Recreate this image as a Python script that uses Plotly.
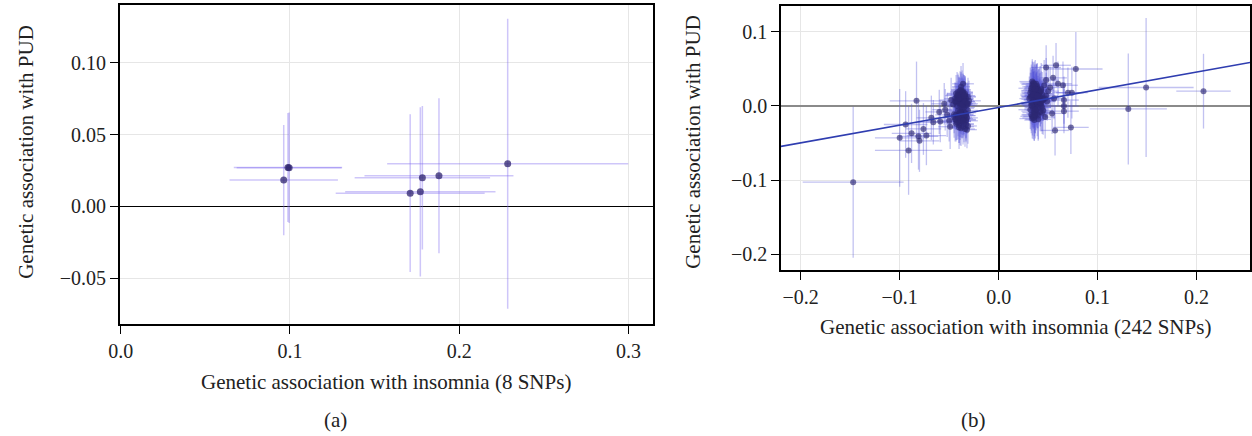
import plotly.graph_objects as go

# ---- panel (a): 8 SNPs ----
a_x = [0.0988, 0.0995, 0.0963, 0.171, 0.177, 0.1782, 0.188, 0.2286]
a_y = [0.0272, 0.0270, 0.0184, 0.0093, 0.0102, 0.0200, 0.0214, 0.0298]
a_xerr = [0.032, 0.031, 0.032, 0.044, 0.0444, 0.040, 0.044, 0.0712]
a_yerr = [0.038, 0.0385, 0.0384, 0.055, 0.059, 0.050, 0.054, 0.101]

# ---- panel (b): 242 SNPs (negative side) ----
neg_x = [-0.147, -0.100, -0.094, -0.088, -0.091, -0.083, -0.081, -0.080, -0.076, -0.073,
         -0.068, -0.066, -0.060, -0.059, -0.055, -0.054, -0.052, -0.050, -0.049, -0.048,
         -0.046, -0.045, -0.044, -0.044, -0.043, -0.043, -0.042, -0.042, -0.042, -0.041,
         -0.041, -0.041, -0.040, -0.040, -0.040, -0.040, -0.039, -0.039, -0.039, -0.039,
         -0.038, -0.038, -0.038, -0.038, -0.038, -0.037, -0.037, -0.037, -0.037, -0.037,
         -0.036, -0.036, -0.036, -0.036, -0.036, -0.035, -0.035, -0.035, -0.035, -0.035,
         -0.034, -0.034, -0.034, -0.034, -0.033, -0.033, -0.033, -0.033, -0.032, -0.032,
         -0.032, -0.031, -0.031, -0.031, -0.030, -0.036, -0.040, -0.043, -0.035, -0.038,
         -0.044, -0.043, -0.042, -0.041, -0.040, -0.039, -0.038, -0.037, -0.036, -0.035,
         -0.034, -0.033, -0.032, -0.041, -0.039, -0.037, -0.035, -0.033, -0.038, -0.036,
         -0.045, -0.042, -0.040, -0.038, -0.036, -0.034, -0.039, -0.037, -0.035, -0.040,
         -0.043, -0.041, -0.039, -0.037, -0.036, -0.034, -0.038, -0.035, -0.033, -0.031]
neg_y = [-0.103, -0.043, -0.025, -0.037, -0.060, 0.007, -0.041, -0.047, -0.031, -0.040,
         -0.016, -0.022, -0.008, -0.021, 0.003, -0.005, -0.012, -0.020, -0.028, 0.008,
         0.002, -0.015, 0.010, -0.018, 0.005, -0.012, 0.014, -0.022, 0.000, 0.008,
         -0.016, 0.019, -0.010, 0.004, -0.026, 0.012, -0.014, 0.007, 0.001, -0.019,
         0.016, -0.008, 0.003, -0.013, 0.022, -0.017, 0.009, -0.004, 0.013, -0.021,
         0.006, -0.011, 0.018, -0.015, 0.030, 0.002, -0.024, 0.011, -0.018, 0.005,
         -0.031, 0.008, -0.009, 0.015, -0.013, 0.001, -0.020, 0.010, -0.032, 0.004,
         -0.016, 0.012, -0.006, -0.027, 0.007, 0.020, -0.029, 0.017, -0.002, -0.010,
         0.006, -0.019, 0.011, -0.014, 0.016, -0.023, 0.003, -0.009, 0.009, -0.017,
         0.013, -0.025, 0.001, -0.006, 0.021, -0.012, 0.004, -0.019, 0.026, -0.028,
         -0.011, 0.007, -0.021, 0.012, -0.003, 0.017, -0.016, 0.002, -0.013, 0.010,
         -0.024, 0.015, -0.007, 0.019, -0.020, 0.006, -0.030, 0.014, -0.011, 0.003]
neg_xerr = [0.051, 0.025, 0.022, 0.020, 0.034, 0.027, 0.020, 0.020, 0.018, 0.020,
            0.015, 0.016, 0.014, 0.014, 0.013, 0.013, 0.012, 0.012, 0.012, 0.012,
            0.010, 0.009, 0.011, 0.008, 0.010, 0.009, 0.012, 0.008, 0.010, 0.009,
            0.011, 0.008, 0.010, 0.009, 0.012, 0.008, 0.010, 0.009, 0.011, 0.008,
            0.010, 0.009, 0.012, 0.008, 0.010, 0.009, 0.011, 0.008, 0.010, 0.009,
            0.012, 0.008, 0.010, 0.009, 0.011, 0.008, 0.010, 0.009, 0.012, 0.008,
            0.010, 0.009, 0.011, 0.008, 0.010, 0.009, 0.012, 0.008, 0.010, 0.009,
            0.011, 0.008, 0.010, 0.009, 0.012, 0.008, 0.010, 0.009, 0.011, 0.008,
            0.009, 0.011, 0.008, 0.010, 0.012, 0.009, 0.011, 0.008, 0.010, 0.009,
            0.011, 0.008, 0.010, 0.012, 0.009, 0.011, 0.008, 0.010, 0.009, 0.011,
            0.008, 0.010, 0.012, 0.009, 0.011, 0.008, 0.010, 0.009, 0.011, 0.008,
            0.010, 0.012, 0.009, 0.011, 0.008, 0.010, 0.009, 0.011, 0.008, 0.010]
neg_yerr = [0.102, 0.066, 0.045, 0.040, 0.060, 0.053, 0.045, 0.042, 0.035, 0.040,
            0.030, 0.030, 0.030, 0.028, 0.028, 0.028, 0.030, 0.028, 0.030, 0.030,
            0.024, 0.028, 0.022, 0.030, 0.026, 0.020, 0.032, 0.024, 0.027, 0.022,
            0.029, 0.025, 0.021, 0.030, 0.024, 0.027, 0.022, 0.031, 0.025, 0.023,
            0.028, 0.021, 0.026, 0.030, 0.024, 0.022, 0.029, 0.025, 0.027, 0.023,
            0.030, 0.022, 0.026, 0.024, 0.028, 0.021, 0.025, 0.031, 0.023, 0.027,
            0.024, 0.029, 0.022, 0.026, 0.030, 0.023, 0.027, 0.021, 0.025, 0.028,
            0.022, 0.026, 0.030, 0.024, 0.027, 0.023, 0.029, 0.025, 0.021, 0.028,
            0.025, 0.029, 0.022, 0.027, 0.024, 0.030, 0.023, 0.026, 0.028, 0.021,
            0.027, 0.024, 0.029, 0.022, 0.026, 0.031, 0.023, 0.025, 0.028, 0.024,
            0.026, 0.022, 0.029, 0.025, 0.027, 0.023, 0.030, 0.024, 0.026, 0.028,
            0.022, 0.027, 0.025, 0.029, 0.023, 0.026, 0.024, 0.028, 0.025, 0.027]

# ---- panel (b): positive side ----
pos_x = [0.131, 0.149, 0.207, 0.078, 0.048, 0.058, 0.048, 0.055, 0.060, 0.065,
         0.074, 0.070, 0.066, 0.066, 0.066, 0.057, 0.073, 0.052, 0.056, 0.054,
         0.031, 0.032, 0.032, 0.033, 0.033, 0.033, 0.034, 0.034, 0.034, 0.034,
         0.035, 0.035, 0.035, 0.035, 0.035, 0.036, 0.036, 0.036, 0.036, 0.036,
         0.037, 0.037, 0.037, 0.037, 0.037, 0.038, 0.038, 0.038, 0.038, 0.039,
         0.039, 0.039, 0.040, 0.040, 0.040, 0.041, 0.041, 0.042, 0.042, 0.043,
         0.043, 0.044, 0.044, 0.045, 0.046, 0.047, 0.048, 0.049, 0.050, 0.034,
         0.036, 0.038, 0.035, 0.037, 0.039, 0.033, 0.036, 0.040, 0.042, 0.045,
         0.034, 0.035, 0.036, 0.037, 0.038, 0.039, 0.040, 0.041, 0.033, 0.035,
         0.037, 0.039, 0.041, 0.043, 0.034, 0.036, 0.038, 0.040, 0.042, 0.044,
         0.032, 0.035, 0.036, 0.038, 0.039, 0.040, 0.037, 0.035, 0.034, 0.036,
         0.038, 0.041, 0.043, 0.045, 0.047, 0.033, 0.037, 0.039, 0.042, 0.044]
pos_y = [-0.004, 0.025, 0.020, 0.050, 0.052, 0.055, 0.035, 0.038, 0.030, 0.028,
         0.018, 0.018, 0.008, 0.000, -0.007, -0.033, -0.029, 0.025, 0.010, -0.010,
         0.010, -0.005, 0.018, 0.004, 0.024, -0.012, 0.014, 0.000, 0.029, -0.017,
         0.008, 0.020, -0.003, 0.012, 0.031, 0.016, -0.009, 0.005, 0.022, 0.002,
         0.011, -0.014, 0.027, 0.007, 0.017, -0.006, 0.013, 0.001, 0.021, 0.009,
         -0.011, 0.025, 0.003, 0.015, -0.018, 0.019, 0.006, 0.012, -0.008, 0.023,
         0.004, 0.016, -0.002, 0.010, 0.028, -0.015, 0.014, 0.006, 0.020, 0.033,
         -0.019, 0.009, 0.026, -0.001, 0.018, 0.013, 0.030, -0.013, 0.002, 0.008,
         0.005, 0.019, -0.007, 0.014, 0.024, -0.004, 0.011, 0.017, 0.021, 0.002,
         -0.010, 0.027, 0.008, 0.000, -0.014, 0.028, 0.015, -0.002, 0.019, 0.007,
         0.012, -0.016, 0.009, 0.030, 0.004, 0.022, -0.005, 0.016, 0.026, -0.012,
         0.006, 0.013, 0.021, -0.006, 0.010, 0.001, 0.023, 0.014, 0.005, -0.009]
pos_xerr = [0.039, 0.048, 0.0275, 0.027, 0.015, 0.015, 0.013, 0.014, 0.014, 0.015,
            0.016, 0.016, 0.015, 0.015, 0.015, 0.014, 0.018, 0.012, 0.012, 0.012,
            0.010, 0.012, 0.009, 0.011, 0.013, 0.010, 0.012, 0.009, 0.011, 0.013,
            0.010, 0.012, 0.009, 0.011, 0.013, 0.010, 0.012, 0.009, 0.011, 0.013,
            0.010, 0.012, 0.009, 0.011, 0.013, 0.010, 0.012, 0.009, 0.011, 0.013,
            0.010, 0.012, 0.009, 0.011, 0.013, 0.010, 0.012, 0.009, 0.011, 0.013,
            0.010, 0.012, 0.009, 0.011, 0.013, 0.010, 0.012, 0.009, 0.011, 0.013,
            0.010, 0.012, 0.009, 0.011, 0.013, 0.010, 0.012, 0.009, 0.011, 0.013,
            0.011, 0.009, 0.013, 0.010, 0.012, 0.009, 0.011, 0.013, 0.010, 0.012,
            0.009, 0.011, 0.013, 0.010, 0.012, 0.009, 0.011, 0.013, 0.010, 0.012,
            0.009, 0.011, 0.013, 0.010, 0.012, 0.009, 0.011, 0.013, 0.010, 0.012,
            0.009, 0.011, 0.013, 0.010, 0.012, 0.009, 0.011, 0.013, 0.010, 0.012]
pos_yerr = [0.075, 0.094, 0.0505, 0.050, 0.030, 0.030, 0.030, 0.030, 0.030, 0.032,
            0.035, 0.034, 0.032, 0.030, 0.030, 0.034, 0.036, 0.028, 0.028, 0.028,
            0.030, 0.026, 0.034, 0.028, 0.032, 0.025, 0.036, 0.029, 0.031, 0.027,
            0.033, 0.030, 0.026, 0.035, 0.028, 0.031, 0.027, 0.034, 0.029, 0.032,
            0.026, 0.030, 0.035, 0.028, 0.031, 0.027, 0.033, 0.029, 0.036, 0.026,
            0.030, 0.032, 0.028, 0.034, 0.027, 0.031, 0.029, 0.033, 0.026, 0.035,
            0.028, 0.030, 0.032, 0.027, 0.034, 0.029, 0.031, 0.026, 0.033, 0.030,
            0.028, 0.035, 0.027, 0.031, 0.029, 0.032, 0.026, 0.034, 0.030, 0.028,
            0.031, 0.027, 0.034, 0.029, 0.032, 0.026, 0.030, 0.035, 0.028, 0.033,
            0.027, 0.031, 0.029, 0.034, 0.026, 0.032, 0.030, 0.028, 0.035, 0.027,
            0.033, 0.029, 0.031, 0.026, 0.034, 0.028, 0.032, 0.030, 0.027, 0.035,
            0.029, 0.031, 0.026, 0.033, 0.028, 0.034, 0.030, 0.027, 0.032, 0.029]

# MR regression line (b)
mr_slope = 0.239
mr_intercept = -0.002
b_xrange = [-0.22, 0.254]

FONT = "Liberation Serif, Times New Roman, serif"
bar_a = "rgba(125,105,240,0.38)"
bar_b = "rgba(85,85,215,0.36)"
dot_a = "rgba(45,35,110,0.75)"
dot_b = "rgba(45,40,115,0.65)"

fig = go.Figure()

fig.add_trace(go.Scatter(
    x=a_x, y=a_y, mode="markers",
    marker=dict(size=7, color=dot_a),
    error_x=dict(type="data", array=a_xerr, width=0, thickness=1.5, color=bar_a),
    error_y=dict(type="data", array=a_yerr, width=0, thickness=1.5, color=bar_a),
    xaxis="x", yaxis="y", showlegend=False, hoverinfo="skip"))

for xs, ys, xe, ye in [(neg_x, neg_y, neg_xerr, neg_yerr), (pos_x, pos_y, pos_xerr, pos_yerr)]:
    fig.add_trace(go.Scatter(
        x=xs, y=ys, mode="markers",
        marker=dict(size=6, color=dot_b),
        error_x=dict(type="data", array=xe, width=0, thickness=1.3, color=bar_b),
        error_y=dict(type="data", array=ye, width=0, thickness=1.3, color=bar_b),
        xaxis="x2", yaxis="y2", showlegend=False, hoverinfo="skip"))

fig.add_trace(go.Scatter(
    x=b_xrange, y=[mr_intercept + mr_slope * v for v in b_xrange], mode="lines",
    line=dict(color="#2f3db0", width=1.6),
    xaxis="x2", yaxis="y2", showlegend=False, hoverinfo="skip"))

W, H = 1252, 436
axis_common = dict(showline=True, mirror=True, linecolor="black", linewidth=1.5,
                   ticks="outside", ticklen=8, tickcolor="black", tickwidth=1.3,
                   showgrid=True, gridcolor="#e6e6e6", gridwidth=1,
                   tickfont=dict(family=FONT, size=20, color="#222"))

fig.update_layout(
    width=W, height=H,
    margin=dict(l=0, r=0, t=0, b=0),
    plot_bgcolor="white", paper_bgcolor="white",
    font=dict(family=FONT, color="#222"),
    xaxis=dict(domain=[109 / W, 648 / W], range=[-0.0005, 0.3146], anchor="y",
               tickvals=[0.0, 0.1, 0.2, 0.3], tickformat=".1f", zeroline=False, **axis_common),
    yaxis=dict(domain=[1 - 324 / H, 1 - 5 / H], range=[-0.0819, 0.1404], anchor="x",
               tickvals=[-0.05, 0.0, 0.05, 0.10], tickformat=".2f",
               zeroline=True, zerolinecolor="black", zerolinewidth=1.3, **axis_common),
    xaxis2=dict(domain=[777 / W, 1251 / W], range=b_xrange, anchor="y2",
                tickvals=[-0.2, -0.1, 0.0, 0.1, 0.2], tickformat=".1f",
                zeroline=True, zerolinecolor="black", zerolinewidth=1.5, **axis_common),
    yaxis2=dict(domain=[1 - 270 / H, 1 - 6 / H], range=[-0.2216, 0.1351], anchor="x2",
                tickvals=[-0.2, -0.1, 0.0, 0.1], tickformat=".1f",
                zeroline=True, zerolinecolor="#8a8a8a", zerolinewidth=2, **axis_common),
)

title_font = dict(family=FONT, size=21, color="#222")
ann = [
    dict(text="Genetic association with insomnia (8 SNPs)", x=378 / W, y=1 - 382 / H),
    dict(text="Genetic association with insomnia (242 SNPs)", x=1014 / W, y=1 - 327 / H),
    dict(text="Genetic association with PUD", x=14 / W, y=1 - 152 / H, textangle=-90),
    dict(text="Genetic association with PUD", x=688 / W, y=1 - 142 / H, textangle=-90),
    dict(text="(a)", x=327 / W, y=1 - 420 / H),
    dict(text="(b)", x=972 / W, y=1 - 420 / H),
]
for a in ann:
    fig.add_annotation(xref="paper", yref="paper", showarrow=False,
                       xanchor="center", yanchor="middle", font=title_font, **a)

# page body has a default 8px margin; drop it so the figure sits at the window origin
fig.write_html("out.html", config={"displayModeBar": False},
               post_script="document.body.style.margin='0';")
